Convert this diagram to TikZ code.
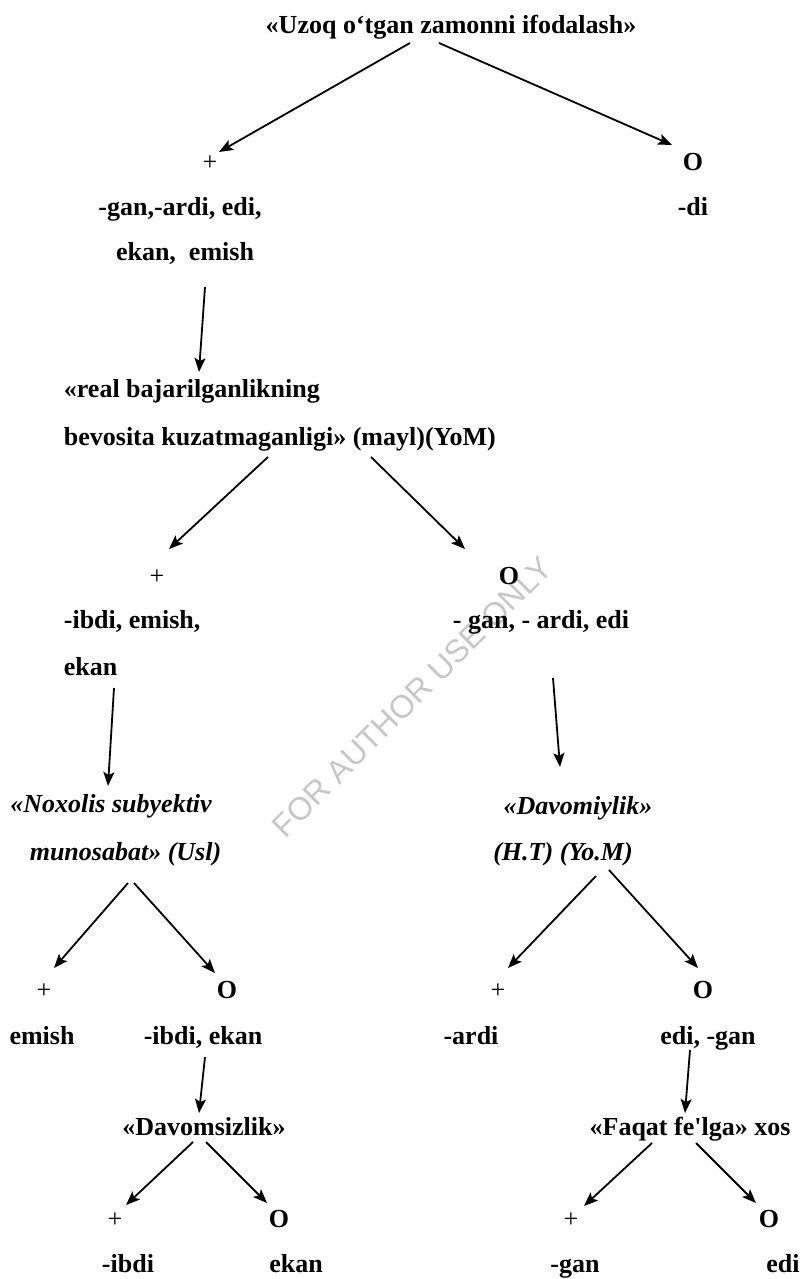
\documentclass[tikz,border=0pt]{standalone}
\usepackage{fontspec}
\setmainfont{Liberation Serif}
\newfontfamily\wmfont{Liberation Sans}
\usepackage{tikz}
\usetikzlibrary{arrows.meta,calc}

\begin{document}
\begin{tikzpicture}[x=1pt,y=-1pt,line width=1.8pt]
  \tikzstyle{every node} = [inner sep = 0pt, anchor = base, font = \fontsize{26}{30}\selectfont\bfseries];
  \tikzstyle{itl} = [font = \fontsize{26}{30}\selectfont\bfseries\itshape];
  \tikzstyle{plus} = [font = \fontsize{26}{30}\selectfont];
  \tikzstyle{arr} = [-{Stealth[length=14pt,width=11pt,inset=3pt]}];
  \useasboundingbox (0,0) rectangle (804,1279);

  % watermark
  \node[font=\wmfont\fontsize{32}{36}\selectfont, text=black!22, anchor=center, rotate=45] (wm) at (412,697) {FOR AUTHOR USE ONLY};

  % texts
  \node (top) at (451,34) {«Uzoq o‘tgan zamonni ifodalash»};
  \node (g1) at (180,215) {-gan,-ardi, edi,};
  \node (g2) at (185,260) {ekan,\ \ emish};
  \node (di) at (693,215) {-di};
  \node[anchor=base west] (rb1) at (63,397) {«real bajarilganlikning};
  \node[anchor=base west] (rb2) at (63,445) {bevosita kuzatmaganligi» (mayl)(YoM)};
  \node[anchor=base west] (ib1) at (63,628) {-ibdi, emish,};
  \node[anchor=base west] (ib2) at (63,675) {ekan};
  \node (ga) at (541,628) {- gan, - ardi, edi};
  \node[itl] (nx1) at (111,812) {«Noxolis subyektiv};
  \node[itl] (nx2) at (125.5,860) {munosabat» (Usl)};
  \node[itl] (dv1) at (578,814) {«Davomiylik»};
  \node[itl] (dv2) at (563,860) {(H.T) (Yo.M)};
  \node (em) at (42,1044) {emish};
  \node (ie) at (203,1044) {-ibdi, ekan};
  \node (ar) at (471,1044) {-ardi};
  \node (eg) at (708,1044) {edi, -gan};
  \node (ds) at (204,1135) {«Davomsizlik»};
  \node (fq) at (690,1135) {«Faqat fe\textquotesingle lga» xos};
  \node (ib) at (128,1272) {-ibdi};
  \node (ek) at (296,1272) {ekan};
  \node (gn) at (575,1272) {-gan};
  \node (ed) at (783,1272) {edi};

  % + and O marks
  \foreach \n/\x/\y in {p1/210/170, p2/157/584, p3/44/998, p4/498/998, p5/115/1227, p6/571/1227}{
    \node[plus] (\n) at (\x,\y) {+};
  }
  \foreach \n/\x/\y in {z1/693/170, z2/509/584, z3/227/998, z4/703/998, z5/279/1227, z6/769/1227}{
    \node (\n) at (\x,\y) {O};
  }

  % arrows
  \draw[arr] ($(top.base)+(-41,9)$) -- ($(p1.base)+(9,-18)$);
  \draw[arr] ($(top.base)+(-12,9)$) -- ($(z1.base)+(-21,-25)$);
  \draw[arr] ($(g2.base)+(20,27)$) -- ($(rb1.base west)+(136,-25)$);
  \draw[arr] ($(rb2.base west)+(205,12)$) -- ($(p2.base)+(12,-35)$);
  \draw[arr] ($(rb2.base west)+(308,12)$) -- ($(z2.base)+(-44,-35)$);
  \draw[arr] ($(ib2.base west)+(51,13)$) -- ($(nx1.base)+(-3,-26)$);
  \draw[arr] ($(ga.base)+(12,50)$) -- ($(dv1.base)+(-18,-47)$);
  \draw[arr] ($(nx2.base)+(2.5,23)$) -- ($(p3.base)+(10,-30)$);
  \draw[arr] ($(nx2.base)+(8.5,23)$) -- ($(z3.base)+(-12,-25)$);
  \draw[arr] ($(dv2.base)+(33,16)$) -- ($(p4.base)+(10,-30)$);
  \draw[arr] ($(dv2.base)+(46,10)$) -- ($(z4.base)+(-5,-30)$);
  \draw[arr] ($(ie.base)+(2,13)$) -- ($(ds.base)+(-5,-22)$);
  \draw[arr] ($(eg.base)+(-18,6)$) -- ($(fq.base)+(-5,-22)$);
  \draw[arr] ($(ds.base)+(-11,7)$) -- ($(p5.base)+(11,-22)$);
  \draw[arr] ($(ds.base)+(2,7)$) -- ($(z5.base)+(-12,-24)$);
  \draw[arr] ($(fq.base)+(-38,8)$) -- ($(p6.base)+(13,-21)$);
  \draw[arr] ($(fq.base)+(6,8)$) -- ($(z6.base)+(-13,-24)$);
\end{tikzpicture}
\end{document}
